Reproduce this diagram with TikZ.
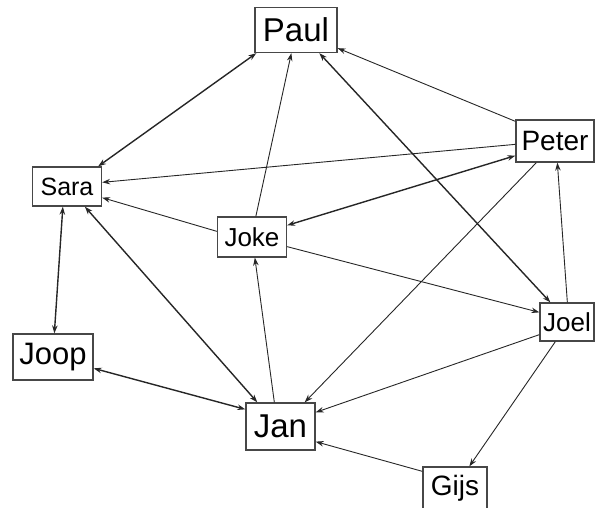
\documentclass[tikz,border=0pt]{standalone}
\usepackage{fontspec}
\setmainfont{Liberation Sans}
\usetikzlibrary{arrows.meta,calc}
\begin{document}
\begin{tikzpicture}[x=1pt,y=-1pt,
  box/.style={draw=black!72, line width=1.3pt, inner sep=0pt, text=black},
  fs/.style={font=\fontsize{#1}{#1}\selectfont},
  one/.style={draw=black!85, line width=0.9pt, -{Stealth[length=8pt,width=5.5pt]}},
  two/.style={draw=black!85, line width=1.4pt, {Stealth[length=8pt,width=5.5pt]}-{Stealth[length=8pt,width=5.5pt]}}]
\useasboundingbox (0,0) rectangle (595,508);
% nodes
\node[box, fs=33, minimum width=82pt, minimum height=45pt] (paul)  at (296,30)    {Paul};
\node[box, fs=28, minimum width=78pt, minimum height=42pt] (peter) at (555,141)   {Peter};
\node[box, fs=25, minimum width=69pt, minimum height=39pt] (sara)  at (67,186.5)  {Sara};
\node[box, fs=26, minimum width=69pt, minimum height=40pt] (joke)  at (252,237)   {Joke};
\node[box, fs=26, minimum width=54pt, minimum height=38pt] (joel)  at (567,322)   {Joel};
\node[box, fs=31, minimum width=80pt, minimum height=46pt] (joop)  at (53,357)    {Joop};
\node[box, fs=33, minimum width=69pt, minimum height=47pt] (jan)   at (280.5,426.5) {Jan};
\node[box, fs=28, minimum width=64pt, minimum height=42pt] (gijs)  at (455,488)   {Gijs};
% connectors
\draw[two] ($(sara.north east)+(-4,0)$) -- ($(paul.south west)+(2,0)$);
\draw[one] ($(joke.north west)+(39,0)$) -- ($(paul.south west)+(37,0)$);
\draw[two] ($(paul.south west)+(65,0)$) -- ($(joel.north west)+(11,0)$);
\draw[one] ($(peter.north west)+(0,2)$) -- ($(paul.south east)+(0,-5)$);
\draw[one] ($(peter.north west)+(0,25)$) -- ($(sara.north east)+(0,16)$);
\draw[two] ($(peter.south west)+(0,-7)$) -- ($(joke.north east)+(0,9)$);
\draw[one] ($(peter.south west)+(21,0)$) -- ($(jan.north east)+(-11,0)$);
\draw[one] ($(joel.north west)+(28,0)$) -- ($(peter.south west)+(42,0)$);
\draw[one] ($(joke.north west)+(0,15)$) -- ($(sara.south east)+(0,-9)$);
\draw[one] ($(joke.south east)+(0,-11)$) -- ($(joel.north west)+(0,10)$);
\draw[one] ($(jan.north west)+(29,0)$) -- ($(joke.south west)+(38,0)$);
\draw[two] ($(sara.south west)+(53,0)$) -- ($(jan.north west)+(12,0)$);
\draw[two] ($(sara.south west)+(31,0)$) -- ($(joop.north west)+(42,0)$);
\draw[two] ($(joop.north east)+(0,35)$) -- ($(jan.north west)+(0,7)$);
\draw[one] ($(joel.south west)+(0,-7)$) -- ($(jan.north east)+(0,10)$);
\draw[one] ($(joel.south west)+(16,0)$) -- ($(gijs.north west)+(47,0)$);
\draw[one] ($(gijs.north west)+(0,5)$) -- ($(jan.south east)+(0,-9)$);
\end{tikzpicture}
\end{document}
